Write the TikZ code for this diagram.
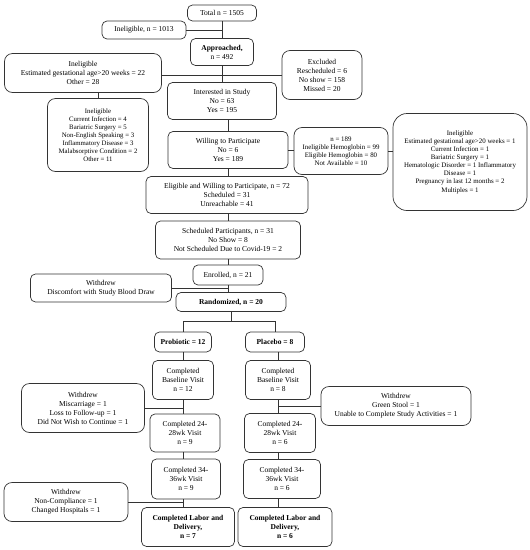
\documentclass[tikz,border=0pt]{standalone}
\usepackage{fontspec}
\setmainfont{Liberation Serif}
\usetikzlibrary{positioning, calc}

\begin{document}
\begin{tikzpicture}[
  x=1pt, y=-1pt,
  font=\fontsize{7.5}{9}\selectfont,
  box/.style={draw=black!80, line width=0.7pt, rounded corners=5pt,
              align=center, inner sep=1pt},
  bigbox/.style={box, rounded corners=8pt},
  smallfont/.style={font=\fontsize{6.9}{8.1}\selectfont},
  boldbox/.style={box, font=\fontsize{7.5}{9}\selectfont\bfseries},
  link/.style={draw=black!80, line width=0.7pt}
]
\useasboundingbox (0,0) rectangle (530,550);

% -- Screening ------------------------------------------------
\node[box, minimum width=69, minimum height=16]  (tot)   at (222,13)  {Total n = 1505};
\node[box, minimum width=84, minimum height=18]  (inelA) at (144,30)  {Ineligible, n = 1013};
\node[box, minimum width=63, minimum height=27]  (appr)  at (222,52)  {\textbf{Approached,}\\n = 492};
\node[bigbox, minimum width=157, minimum height=39] (inelB) at (83,73)
      {Ineligible\\Estimated gestational age>20 weeks = 22\\Other = 28};
\node[bigbox, minimum width=80, minimum height=49] (excl) at (322,75)
      {Excluded\\Rescheduled = 6\\No show = 158\\Missed = 20};
\node[box, minimum width=109, minimum height=37] (inter) at (222,101)
      {Interested in Study\\No = 63\\Yes = 195};
\node[bigbox, minimum width=101, minimum height=73,
      font=\fontsize{6.8}{7.9}\selectfont] (inelC) at (98,135)
      {Ineligible\\Current Infection = 4\\Bariatric Surgery = 5\\Non-English Speaking = 3\\
       Inflammatory Disease = 3\\Malabsorptive Condition = 2\\Other = 11};
\node[box, minimum width=120, minimum height=37] (will) at (228,150)
      {Willing to Participate\\No = 6\\Yes = 189};
\node[bigbox, smallfont, minimum width=94, minimum height=47] (hemo) at (341,151)
      {n = 189\\Ineligible Hemoglobin = 99\\Eligible Hemoglobin = 80\\Not Available = 10};
\node[box, rounded corners=14pt, smallfont, minimum width=134, minimum height=97] (big) at (460,162)
      {Ineligible\\Estimated gestational age>20 weeks = 1\\Current Infection = 1\\
       Bariatric Surgery = 1\\Hematologic Disorder = 1 Inflammatory\\Disease = 1\\
       Pregnancy in last 12 months = 2\\Multiples = 1};

% -- Enrolment --------------------------------------------------
\node[box, minimum width=162, minimum height=37] (elig) at (227,195)
      {Eligible and Willing to Participate, n = 72\\Scheduled = 31\\Unreachable = 41};
\node[box, minimum width=145, minimum height=38] (sched) at (228,240)
      {Scheduled Participants, n = 31\\No Show = 8\\Not Scheduled Due to Covid-19 = 2};
\node[box, minimum width=70, minimum height=20]  (enr)  at (228,275) {Enrolled, n = 21};
\node[box, minimum width=141, minimum height=28] (disc) at (101,288)
      {Withdrew\\Discomfort with Study Blood Draw};
\node[boldbox, minimum width=110, minimum height=19] (rand) at (231,302) {Randomized, n = 20};

% -- Probiotic arm ----------------------------------------------
\node[boldbox, minimum width=57, minimum height=20] (prob)  at (183,342) {Probiotic = 12};
\node[box, minimum width=61, minimum height=39]     (baseP) at (183,380) {Completed\\Baseline Visit\\n = 12};
\node[bigbox, minimum width=123, minimum height=49] (misc)  at (83,408)
      {Withdrew\\Miscarriage = 1\\Loss to Follow-up = 1\\Did Not Wish to Continue = 1};
\node[box, minimum width=70, minimum height=38]     (wkAP)  at (185,433) {Completed 24-\\28wk Visit\\n = 9};
\node[box, minimum width=69, minimum height=40]     (wkBP)  at (186,479) {Completed 34-\\36wk Visit\\n = 9};
\node[bigbox, minimum width=124, minimum height=39] (nonc)  at (66,502)
      {Withdrew\\Non-Compliance = 1\\Changed Hospitals = 1};
\node[boldbox, minimum width=93, minimum height=39] (ldP)   at (188,527)
      {Completed Labor and\\Delivery,\\n = 7};

% -- Placebo arm ------------------------------------------------
\node[boldbox, minimum width=59, minimum height=20] (plac)  at (275,342) {Placebo = 8};
\node[box, minimum width=65, minimum height=39]     (baseC) at (278,380) {Completed\\Baseline Visit\\n = 8};
\node[bigbox, minimum width=150, minimum height=39] (green) at (396,406)
      {Withdrew\\Green Stool = 1\\Unable to Complete Study Activities = 1};
\node[box, minimum width=71, minimum height=39]     (wkAC)  at (280,433) {Completed 24-\\28wk Visit\\n = 6};
\node[box, minimum width=77, minimum height=39]     (wkBC)  at (282,479) {Completed 34-\\36wk Visit\\n = 6};
\node[boldbox, minimum width=94, minimum height=39] (ldC)   at (285,527)
      {Completed Labor and\\Delivery,\\n = 6};

% -- Connectors -------------------------------------------------
\path[link] (tot) -- (appr);
\path[link] (inelA.east) -- (inelA.east -| tot.south);
\path[link] (appr) -- (inter);
\path[link] (inelB.east |- excl.west) -- (excl.west);
\path[link] (inelB.south -| inelC.north) -- (inelC.north);
\path[link] (inter.south -| will.north) -- (will.north);
\path[link] (will.east) -- (will.east -| hemo.west);
\path[link] (hemo.east) -- (hemo.east -| big.west);
\path[link] (will.south) -- (will.south |- elig.north);
\path[link] (elig.south -| will.south) -- (will.south |- sched.north);
\path[link] (sched) -- (enr);
\path[link] (enr.south) -- (enr.south |- rand.north);
\path[link] (disc.east) -- (disc.east -| enr.south);

\path[link] (rand.south) -- ++(0,9) coordinate (split);
\path[link] (prob.north) |- (split) -| (plac.north);

\path[link] (prob.south) -- (prob.south |- baseP.north);
\path[link] (baseP.south) -- (baseP.south |- wkAP.north);
\path[link] (misc.east) -- (misc.east -| baseP.south);
\path[link] (baseP.south |- wkAP.south) -- (baseP.south |- wkBP.north);
\path[link] (baseP.south |- wkBP.south) -- (baseP.south |- ldP.north);
\path[link] (nonc.east) -- (nonc.east -| baseP.south);

\path[link] (plac.south -| baseC.north) -- (baseC.north);
\path[link] (baseC.south) -- (baseC.south |- wkAC.north);
\path[link] (green.west) -- (green.west -| baseC.south);
\path[link] (baseC.south |- wkAC.south) -- (baseC.south |- wkBC.north);
\path[link] (baseC.south |- wkBC.south) -- (baseC.south |- ldC.north);

\end{tikzpicture}
\end{document}
